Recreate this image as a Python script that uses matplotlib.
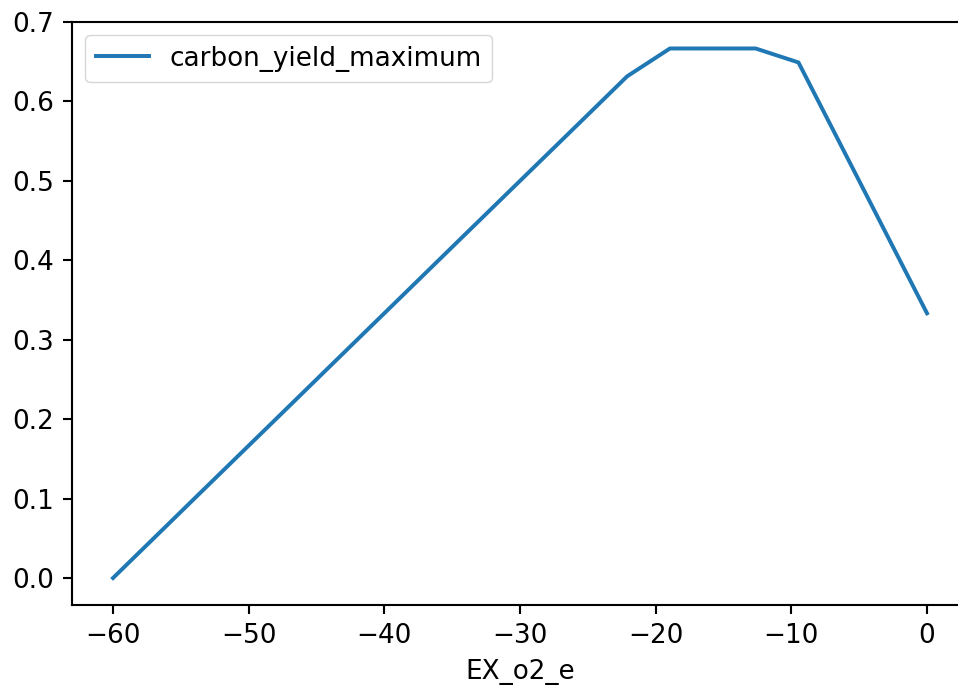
import matplotlib
matplotlib.use("Agg")
import matplotlib.pyplot as plt

# oxygen uptake flux (EX_o2_e) and max carbon yield
ex_o2_e = [-60.0, -56.842, -53.684, -50.526, -47.368, -44.211, -41.053, -37.895,
           -34.737, -31.579, -28.421, -25.263, -22.105, -18.947, -15.789, -12.632,
           -9.474, -6.316, -3.158, 0.0]
carbon_yield_maximum = [0.0, 0.0526, 0.1053, 0.1579, 0.2105, 0.2632, 0.3158, 0.3684,
                        0.4211, 0.4737, 0.5263, 0.5789, 0.6316, 0.6667, 0.6667, 0.6667,
                        0.6491, 0.5439, 0.4386, 0.3333]

S = 2.63  # scale from the original 72 dpi notebook figure
plt.rcParams.update({
    "font.size": 10 * S * 72 / 100,
    "axes.linewidth": 0.8 * S * 72 / 100,
    "xtick.major.size": 3.5 * S * 72 / 100,
    "ytick.major.size": 3.5 * S * 72 / 100,
    "xtick.major.width": 0.8 * S * 72 / 100,
    "ytick.major.width": 0.8 * S * 72 / 100,
    "xtick.major.pad": 3.5 * S * 72 / 100,
    "ytick.major.pad": 3.5 * S * 72 / 100,
})

fig = plt.figure(figsize=(9.58, 6.93), dpi=100)
ax = fig.add_axes([72.3 / 958, 88.5 / 693, 895.4 / 958, 582.5 / 693])
ax.plot(ex_o2_e, carbon_yield_maximum, color="#1f77b4", lw=1.5 * S * 72 / 100,
        label="carbon_yield_maximum")
ax.set_xlabel("EX_o2_e", labelpad=4 * S * 72 / 100)
ax.legend(loc="upper left")

fig.savefig("out.png", dpi=100)
